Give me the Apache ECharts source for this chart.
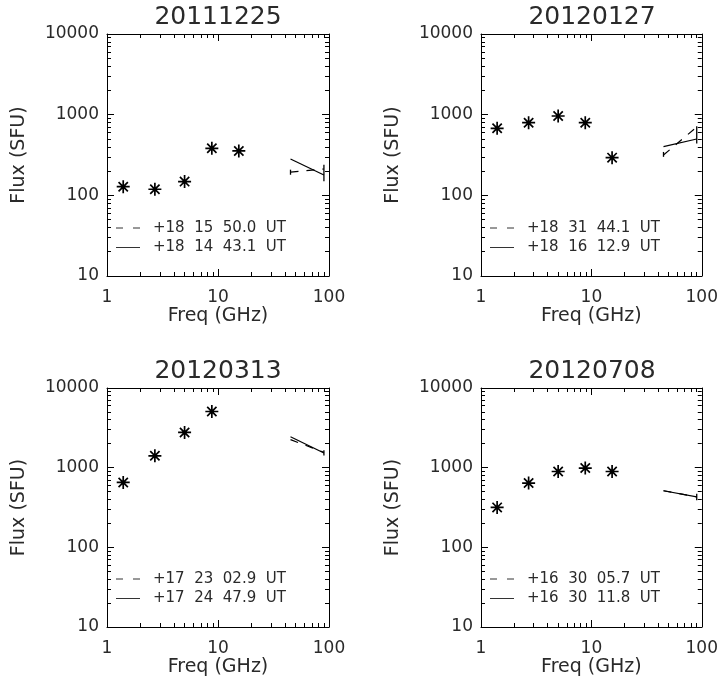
<!DOCTYPE html>
<html>
<head>
<meta charset="utf-8">
<script src="https://cdn.jsdelivr.net/npm/echarts@6/dist/echarts.min.js"></script>
<style>
  html, body { margin: 0; padding: 0; background: #fff; }
  #chart { width: 721px; height: 690px; }
</style>
</head>
<body>
<div id="chart"></div>
<script>
// Panel titles (event dates)
const titles = ['20111225', '20120127', '20120313', '20120708'];

// Low-frequency radiometer points (GHz) and fluxes (SFU), one array per event
const lowFreq = [1.4, 2.7, 5.0, 8.8, 15.4];
const lowFlux20111225 = [128, 119, 148, 383, 355];
const lowFlux20120127 = [678, 795, 962, 795, 293];
const lowFlux20120313 = [652, 1409, 2767, 5070, null];
const lowFlux20120708 = [317, 641, 895, 989, 895];

// High-frequency pair (GHz) at two times: dashed = first time, solid = second time
const highFreq = [45, 90];
const dashed20111225 = [194, 212];
const solid20111225 = [282, 179];
const dashed20120127 = [316, 703];
const solid20120127 = [401, 499];
const dashed20120313 = [2250, 1560];
const solid20120313 = [2440, 1530];
const dashed20120708 = [513, 431];
const solid20120708 = [513, 431];

// Error bars: [freq, low, high]
const err20111225 = [[45, 180, 208], [90, 150, 240]];
const err20120127 = [[45, 300, 345], [90, 440, 720]];
const err20120313 = [[90, 1420, 1650]];
const err20120708 = [[90, 390, 470]];

// Legend texts (dashed, solid)
const legendDashed = ['+18  15  50.0  UT', '+18  31  44.1  UT', '+17  23  02.9  UT', '+16  30  05.7  UT'];
const legendSolid  = ['+18  14  43.1  UT', '+18  16  12.9  UT', '+17  24  47.9  UT', '+16  30  11.8  UT'];

// Axis ticks
const xMajor = [1, 10, 100];
const xMinor = [2, 3, 4, 5, 6, 7, 8, 9, 20, 30, 40, 50, 60, 70, 80, 90];
const yMajor = [10, 100, 1000, 10000];
const yMinor = [20, 30, 40, 50, 60, 70, 80, 90, 200, 300, 400, 500, 600, 700, 800, 900,
                2000, 3000, 4000, 5000, 6000, 7000, 8000, 9000];

const lowFluxes = [lowFlux20111225, lowFlux20120127, lowFlux20120313, lowFlux20120708];
const dashedSets = [dashed20111225, dashed20120127, dashed20120313, dashed20120708];
const solidSets = [solid20111225, solid20120127, solid20120313, solid20120708];
const errSets = [err20111225, err20120127, err20120313, err20120708];

const FONT = 'DejaVu Sans';
const INK = '#2a2a2a';

// Plot-box layout for the 2x2 panels
const boxes = [
  { left: 107, top: 34, width: 222, height: 242 },
  { left: 481, top: 34, width: 222, height: 242 },
  { left: 107, top: 388, width: 222, height: 239 },
  { left: 481, top: 388, width: 222, height: 239 }
];

const asterisk = 'path://M0,-6L0,6M-6,0L6,0M-4.3,-4.3L4.3,4.3M-4.3,4.3L4.3,-4.3';
const plain = v => String(v);

const grid = [], xAxis = [], yAxis = [], series = [], graphic = [];

boxes.forEach((b, i) => {
  grid.push({ left: b.left, top: b.top, width: b.width, height: b.height, containLabel: false });
  const xBase = xAxis.length, yBase = yAxis.length;

  const baseX = { type: 'log', logBase: 10, min: 1, max: 100, gridIndex: i, splitLine: { show: false } };
  const baseY = { type: 'log', logBase: 10, min: 10, max: 10000, gridIndex: i, splitLine: { show: false } };
  const line = { show: true, lineStyle: { color: '#000', width: 1 } };

  // bottom major (with labels + name)
  xAxis.push(Object.assign({}, baseX, {
    position: 'bottom', axisLine: line,
    axisTick: { show: true, inside: true, length: 7, customValues: xMajor, lineStyle: { color: '#000' } },
    axisLabel: { show: true, customValues: xMajor, formatter: plain, margin: 13, fontFamily: FONT, fontSize: 17, color: INK },
    name: 'Freq (GHz)', nameLocation: 'middle', nameGap: 30,
    nameTextStyle: { fontFamily: FONT, fontSize: 19, color: INK }
  }));
  // bottom minor
  xAxis.push(Object.assign({}, baseX, {
    position: 'bottom', axisLine: { show: false },
    axisTick: { show: true, inside: true, length: 4, customValues: xMinor, lineStyle: { color: '#000' } },
    axisLabel: { show: false }
  }));
  // top major
  xAxis.push(Object.assign({}, baseX, {
    position: 'top', axisLine: line,
    axisTick: { show: true, inside: true, length: 7, customValues: xMajor, lineStyle: { color: '#000' } },
    axisLabel: { show: false }
  }));
  // top minor
  xAxis.push(Object.assign({}, baseX, {
    position: 'top', axisLine: { show: false },
    axisTick: { show: true, inside: true, length: 4, customValues: xMinor, lineStyle: { color: '#000' } },
    axisLabel: { show: false }
  }));

  // left major (labels + name)
  yAxis.push(Object.assign({}, baseY, {
    position: 'left', axisLine: line,
    axisTick: { show: true, inside: true, length: 7, customValues: yMajor, lineStyle: { color: '#000' } },
    axisLabel: { show: true, customValues: yMajor, formatter: plain, margin: 8, fontFamily: FONT, fontSize: 17, color: INK },
    name: 'Flux (SFU)', nameLocation: 'middle', nameGap: 78, nameRotate: 90,
    nameTextStyle: { fontFamily: FONT, fontSize: 19, color: INK }
  }));
  yAxis.push(Object.assign({}, baseY, {
    position: 'left', axisLine: { show: false },
    axisTick: { show: true, inside: true, length: 4, customValues: yMinor, lineStyle: { color: '#000' } },
    axisLabel: { show: false }
  }));
  yAxis.push(Object.assign({}, baseY, {
    position: 'right', axisLine: line,
    axisTick: { show: true, inside: true, length: 7, customValues: yMajor, lineStyle: { color: '#000' } },
    axisLabel: { show: false }
  }));
  yAxis.push(Object.assign({}, baseY, {
    position: 'right', axisLine: { show: false },
    axisTick: { show: true, inside: true, length: 4, customValues: yMinor, lineStyle: { color: '#000' } },
    axisLabel: { show: false }
  }));

  const ax = { xAxisIndex: xBase, yAxisIndex: yBase };

  // asterisk points
  series.push(Object.assign({
    type: 'scatter',
    data: lowFreq.map((f, k) => lowFluxes[i][k] == null ? null : [f, lowFluxes[i][k]]).filter(d => d),
    symbol: asterisk, symbolSize: 13, symbolKeepAspect: true,
    itemStyle: { color: 'rgba(0,0,0,0)', borderColor: '#000', borderWidth: 1.7, opacity: 1 },
    silent: true, z: 5
  }, ax));

  // dashed & solid high-frequency spectra
  series.push(Object.assign({
    type: 'line', name: legendDashed[i],
    data: highFreq.map((f, k) => [f, dashedSets[i][k]]),
    symbol: 'none', lineStyle: { color: '#000', width: 1.2, type: [8, 8] }, silent: true
  }, ax));
  series.push(Object.assign({
    type: 'line', name: legendSolid[i],
    data: highFreq.map((f, k) => [f, solidSets[i][k]]),
    symbol: 'none', lineStyle: { color: '#000', width: 1.2 }, silent: true
  }, ax));

  // error bars
  series.push(Object.assign({
    type: 'custom',
    data: errSets[i],
    encode: { x: 0, y: [1, 2] },
    renderItem: (params, api) => {
      const a = api.coord([api.value(0), api.value(1)]);
      const c = api.coord([api.value(0), api.value(2)]);
      return {
        type: 'line',
        shape: { x1: a[0], y1: a[1], x2: c[0], y2: c[1] },
        style: { stroke: '#000', lineWidth: 1.3 }
      };
    },
    silent: true
  }, ax));

  // title
  graphic.push({
    type: 'text', x: b.left + b.width / 2, y: b.top - 17,
    style: { text: titles[i], fontFamily: FONT, fontSize: 25, fill: INK, align: 'center', verticalAlign: 'middle' }
  });

  // in-plot key
  const yD = b.top + b.height - 48, yS = b.top + b.height - 28.5;
  graphic.push({
    type: 'line', shape: { x1: b.left + 9, y1: yD, x2: b.left + 33, y2: yD },
    style: { stroke: '#333', lineWidth: 1, lineDash: [7, 10] }
  });
  graphic.push({
    type: 'line', shape: { x1: b.left + 9, y1: yS, x2: b.left + 33, y2: yS },
    style: { stroke: '#333', lineWidth: 1 }
  });
  graphic.push({
    type: 'text', x: b.left + 46, y: yD,
    style: { text: legendDashed[i], fontFamily: FONT, fontSize: 15, fill: INK, verticalAlign: 'middle' }
  });
  graphic.push({
    type: 'text', x: b.left + 46, y: yS,
    style: { text: legendSolid[i], fontFamily: FONT, fontSize: 15, fill: INK, verticalAlign: 'middle' }
  });
});

const chart = echarts.init(document.getElementById('chart'), null, { renderer: 'canvas' });
chart.setOption({
  animation: false,
  backgroundColor: '#fff',
  grid, xAxis, yAxis, series, graphic
});
</script>
</body>
</html>
